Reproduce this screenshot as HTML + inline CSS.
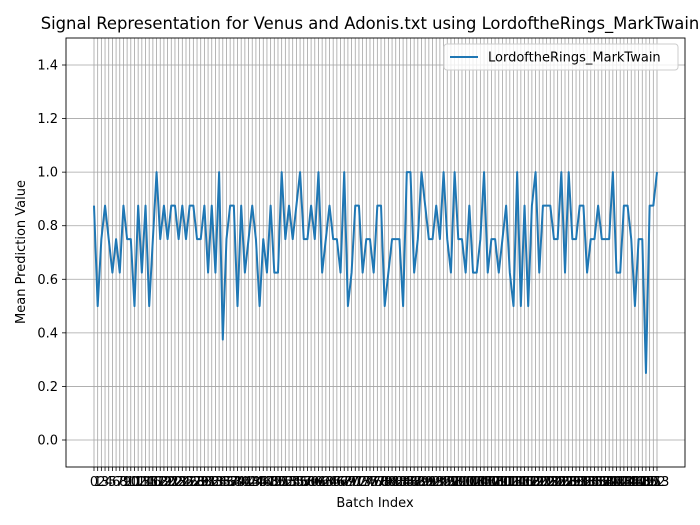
<!DOCTYPE html>
<html><head><meta charset="utf-8"><style>
body{margin:0;background:#fff;}
svg{display:block;font-family:"DejaVu Sans","Liberation Sans",sans-serif;}
</style></head><body>
<svg id="chart" width="700" height="525" xmlns="http://www.w3.org/2000/svg">
<rect width="700" height="525" fill="#fff"/>
<text x="370" y="29" font-size="16.4" text-anchor="middle" fill="#000">Signal Representation for Venus and Adonis.txt using LordoftheRings_MarkTwain</text>
<g id="grid"></g>
<g id="xticks"></g>
<g id="yticks"></g>
<path id="series" fill="none" stroke="#1f77b4" stroke-width="2" stroke-linejoin="round"/>
<rect x="66" y="38" width="619" height="429" fill="none" stroke="#000" stroke-width="0.9"/>
<text x="375" y="507" font-size="13" text-anchor="middle">Batch Index</text>
<text transform="translate(25,252) rotate(-90)" font-size="13" text-anchor="middle">Mean Prediction Value</text>
<g>
<rect x="444" y="44" width="234" height="26" rx="3" fill="#fff" fill-opacity="0.8" stroke="#ccc"/>
<line x1="450" y1="57" x2="478" y2="57" stroke="#1f77b4" stroke-width="2"/>
<text x="488" y="61.5" font-size="13">LordoftheRings_MarkTwain</text>
</g>
</svg>
<script>
const values = [0.875,0.5,0.75,0.875,0.75,0.625,0.75,0.625,0.875,0.75,0.75,0.5,0.875,0.625,0.875,0.5,0.75,1.0,0.75,0.875,0.75,0.875,0.875,0.75,0.875,0.75,0.875,0.875,0.75,0.75,0.875,0.625,0.875,0.625,1.0,0.375,0.75,0.875,0.875,0.5,0.875,0.625,0.75,0.875,0.75,0.5,0.75,0.625,0.875,0.625,0.625,1.0,0.75,0.875,0.75,0.875,1.0,0.75,0.75,0.875,0.75,1.0,0.625,0.75,0.875,0.75,0.75,0.625,1.0,0.5,0.625,0.875,0.875,0.625,0.75,0.75,0.625,0.875,0.875,0.5,0.625,0.75,0.75,0.75,0.5,1.0,1.0,0.625,0.75,1.0,0.875,0.75,0.75,0.875,0.75,1.0,0.75,0.625,1.0,0.75,0.75,0.625,0.875,0.625,0.625,0.75,1.0,0.625,0.75,0.75,0.625,0.75,0.875,0.625,0.5,1.0,0.5,0.875,0.5,0.875,1.0,0.625,0.875,0.875,0.875,0.75,0.75,1.0,0.625,1.0,0.75,0.75,0.875,0.875,0.625,0.75,0.75,0.875,0.75,0.75,0.75,1.0,0.625,0.625,0.875,0.875,0.75,0.5,0.75,0.75,0.25,0.875,0.875,1.0];
const yTickValues = [0.0,0.2,0.4,0.6,0.8,1.0,1.2,1.4];
const yTickLabels = ["0.0","0.2","0.4","0.6","0.8","1.0","1.2","1.4"];
const NS="http://www.w3.org/2000/svg";
const n = values.length;
const xs = i => 94 + i*(657-94)/(n-1);
const ys = v => 440 - v*(440-65)/1.4;
function mk(tag, attrs, parent){const e=document.createElementNS(NS,tag);for(const k in attrs)e.setAttribute(k,attrs[k]);parent.appendChild(e);return e;}
const grid=document.getElementById('grid'), xt=document.getElementById('xticks'), yt=document.getElementById('yticks');
for(let i=0;i<n;i++){
  const x=xs(i);
  const g=mk('line',{x1:x,x2:x,y1:38,y2:467,stroke:'#a4a4a4','stroke-width':0.8},grid);
  
  
  const t=mk('line',{x1:x,x2:x,y1:467,y2:471,stroke:'#000','stroke-width':0.8},xt);
  
  
  const l=mk('text',{x:x,y:486,'font-size':13,'text-anchor':'middle'},xt);
  l.textContent=String(i);
  
  
}
yTickValues.forEach((v,j)=>{
  const y=ys(v);
  const g=mk('line',{x1:66,x2:685,y1:y,y2:y,stroke:'#a4a4a4','stroke-width':0.8},grid);
  
  
  const t=mk('line',{x1:62,x2:66,y1:y,y2:y,stroke:'#000','stroke-width':0.8},yt);
  
  
  const l=mk('text',{x:58,y:y+4.5,'font-size':13,'text-anchor':'end'},yt);
  l.textContent=yTickLabels[j];
  
  
});
document.getElementById('series').setAttribute('d',values.map((v,i)=>(i?'L':'M')+xs(i).toFixed(2)+','+ys(v).toFixed(2)).join(''));
</script>
</body></html>
